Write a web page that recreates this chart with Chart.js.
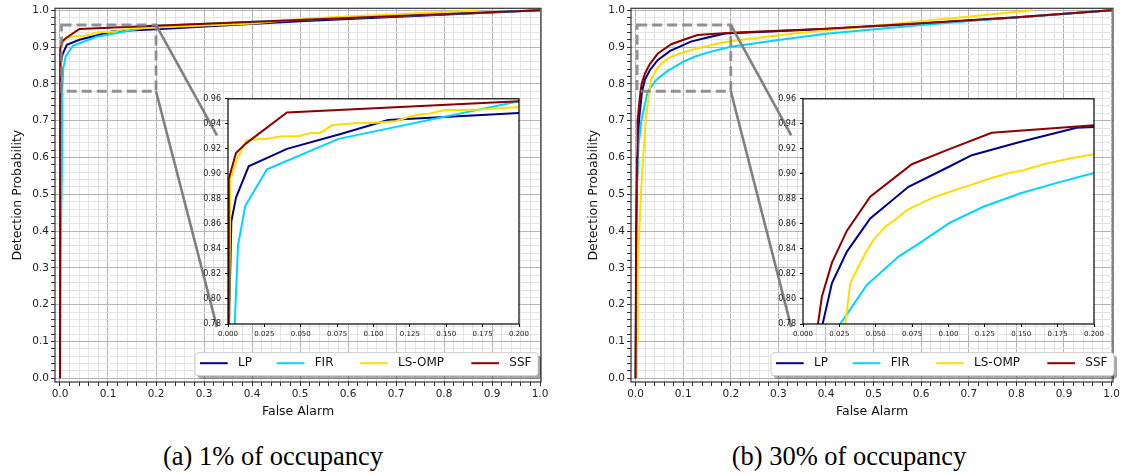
<!DOCTYPE html>
<html><head><meta charset="utf-8">
<script src="https://cdn.jsdelivr.net/npm/chart.js@4.4.1/dist/chart.umd.min.js"></script>
<style>
html,body{margin:0;padding:0;background:#fff;width:1128px;height:475px;overflow:hidden;position:relative}
canvas{position:absolute}
.cap{position:absolute;font-family:"Liberation Serif","Times New Roman",serif;font-size:26.5px;line-height:28px;color:#000;white-space:nowrap;transform:translateX(-50%)}
</style></head><body>
<canvas id="mainA" width="565" height="420" style="left:0px;top:0px"></canvas>
<canvas id="mainB" width="553" height="420" style="left:575px;top:0px"></canvas>
<canvas id="insetA" width="340" height="256" style="left:195px;top:90px"></canvas>
<canvas id="insetB" width="340" height="256" style="left:770px;top:90px"></canvas>
<div class="cap" style="left:273px;top:442px">(a) 1% of occupancy</div>
<div class="cap" style="left:849px;top:442px">(b) 30% of occupancy</div>
<script>
const seriesNames = ['LP', 'FIR', 'LS-OMP', 'SSF'];
const seriesColors = ['#00008b', '#00d4ff', '#ffdd00', '#8b0000'];
const captions = ['(a) 1% of occupancy', '(b) 30% of occupancy'];
const xTitle = 'False Alarm';
const yTitle = 'Detection Probability';

// ---- (a) 1% of occupancy ----
const faLP_a  = [0, 0.0007, 0.0023, 0.0055, 0.0142, 0.0405, 0.078, 0.11, 0.2, 0.5, 1.0];
const pdLP_a  = [0, 0.78, 0.862, 0.881, 0.906, 0.920, 0.932, 0.943, 0.9486, 0.970, 1.0];
const faFIR_a = [0, 0.001, 0.0045, 0.0046, 0.0069, 0.0119, 0.0268, 0.076, 0.2, 1.0];
const pdFIR_a = [0, 0.3, 0.6, 0.78, 0.843, 0.8745, 0.9037, 0.928, 0.958, 1.0];
const faLS_a  = [0, 0.0008, 0.0016, 0.0062, 0.013, 0.027, 0.037, 0.0485, 0.0565, 0.0634, 0.0714, 0.078, 0.0897, 0.099, 0.115, 0.124, 0.131, 0.138, 0.149, 0.161, 0.174, 0.2, 0.4, 0.52, 0.7, 0.87];
const pdLS_a  = [0, 0.78, 0.895, 0.912, 0.927, 0.928, 0.930, 0.930, 0.9327, 0.9327, 0.9388, 0.9396, 0.9406, 0.9406, 0.942, 0.9454, 0.9475, 0.948, 0.951, 0.951, 0.9515, 0.9534, 0.964, 0.978, 0.989, 1.0];
const faSSF_a = [0, 0.0005, 0.0055, 0.012, 0.0405, 0.2, 1.0];
const pdSSF_a = [0, 0.896, 0.9167, 0.924, 0.949, 0.958, 1.0];

// ---- (b) 30% of occupancy ----
const faLP_b  = [0, 0.0015, 0.004, 0.007, 0.0135, 0.0199, 0.0302, 0.0462, 0.0725, 0.101, 0.116, 0.149, 0.188, 0.2, 0.4, 0.6, 0.8, 1.0];
const pdLP_b  = [0, 0.4, 0.6, 0.7, 0.78, 0.8127, 0.8379, 0.8644, 0.8897, 0.9061, 0.9149, 0.9255, 0.9369, 0.9374, 0.949, 0.964, 0.980, 1.0];
const faFIR_b = [0, 0.002, 0.006, 0.012, 0.0256, 0.0439, 0.0657, 0.0783, 0.101, 0.124, 0.149, 0.1744, 0.2, 0.3, 0.4, 0.6, 0.8, 1.0];
const pdFIR_b = [0, 0.5, 0.63, 0.7, 0.78, 0.8113, 0.8339, 0.8432, 0.861, 0.8737, 0.8843, 0.8928, 0.9008, 0.919, 0.936, 0.960, 0.981, 1.0];
const faLS_b  = [0.002, 0.003, 0.0046, 0.011, 0.021, 0.029, 0.0325, 0.0382, 0.0439, 0.0485, 0.0565, 0.0645, 0.0714, 0.0783, 0.0897, 0.101, 0.1149, 0.1286, 0.14, 0.1515, 0.1652, 0.1835, 0.2, 0.3, 0.4, 0.5, 0.6, 0.74, 0.833];
const pdLS_b  = [0, 0.1, 0.3, 0.5, 0.7, 0.78, 0.8127, 0.826, 0.8387, 0.8472, 0.8578, 0.8644, 0.8711, 0.875, 0.8812, 0.8857, 0.891, 0.8963, 0.9003, 0.9029, 0.9077, 0.9122, 0.9157, 0.932, 0.946, 0.957, 0.970, 0.988, 1.0];
const faSSF_b = [0, 0.001, 0.003, 0.004, 0.0103, 0.013, 0.0199, 0.0302, 0.0462, 0.0748, 0.101, 0.1297, 0.2, 0.4, 0.6, 0.8, 1.0];
const pdSSF_b = [0, 0.4, 0.6, 0.7, 0.78, 0.802, 0.829, 0.8546, 0.8817, 0.9077, 0.920, 0.9329, 0.9388, 0.950, 0.965, 0.981, 1.0];

// zoom window (data units) and main / inset axis ticks
const zoomBox = {x0: 0, x1: 0.2, y0: 0.78, y1: 0.96};
const mainStep = 0.02, insetXStep = 0.025, insetYStep = 0.02;

function pts(xs, ys){ return xs.map((x, i) => ({x: x, y: ys[i]})); }
function makeDatasets(fa, pd, width){
  return seriesNames.map((name, i) => ({
    label: name, data: pts(fa[i], pd[i]),
    borderColor: seriesColors[i], backgroundColor: seriesColors[i],
    borderWidth: width, pointRadius: 0, tension: 0, fill: false, order: 3 - i
  }));
}
const isMajor = v => Math.abs(v * 10 - Math.round(v * 10)) < 1e-6;
const FONT = 'DejaVu Sans';

const mainPlugin = {
  id: 'zoomDecor',
  beforeDraw(chart){
    const c = chart.ctx; c.save(); c.fillStyle = '#fff'; c.fillRect(0, 0, chart.width, chart.height); c.restore();
  },
  afterDatasetsDraw(chart, args, opts){
    const {ctx, chartArea: a, scales: {x, y}} = chart;
    ctx.save();
    // connector lines
    ctx.strokeStyle = '#808080'; ctx.lineWidth = 2.6; ctx.setLineDash([]);
    opts.connectors.forEach(([x0, y0, x1, y1]) => {
      ctx.beginPath();
      ctx.moveTo(x.getPixelForValue(x0), y.getPixelForValue(y0));
      ctx.lineTo(x.getPixelForValue(x1), y.getPixelForValue(y1));
      ctx.stroke();
    });
    // dashed zoom rectangle
    const rx0 = x.getPixelForValue(zoomBox.x0) + 1.5, rx1 = x.getPixelForValue(zoomBox.x1);
    const ry0 = y.getPixelForValue(zoomBox.y1), ry1 = y.getPixelForValue(zoomBox.y0);
    ctx.strokeStyle = 'rgba(128,128,128,0.85)'; ctx.lineWidth = 2.8; ctx.setLineDash([10, 5]);
    ctx.strokeRect(rx0, ry0, rx1 - rx0, ry1 - ry0);
    ctx.setLineDash([]);
    // frame
    ctx.strokeStyle = '#333'; ctx.lineWidth = 1.2;
    ctx.strokeRect(a.left, a.top, a.right - a.left, a.bottom - a.top);
    // legend
    const L = opts.legend;
    const bx = a.left + L.dx, by = a.bottom - L.dy - L.h;
    const rr = (px, py, w, h, r) => { ctx.beginPath(); ctx.moveTo(px + r, py); ctx.lineTo(px + w - r, py); ctx.arcTo(px + w, py, px + w, py + r, r); ctx.lineTo(px + w, py + h - r); ctx.arcTo(px + w, py + h, px + w - r, py + h, r); ctx.lineTo(px + r, py + h); ctx.arcTo(px, py + h, px, py + h - r, r); ctx.lineTo(px, py + r); ctx.arcTo(px, py, px + r, py, r); ctx.closePath(); };
    rr(bx + 3, by + 3, L.w, L.h, 3); ctx.fillStyle = 'rgba(0,0,0,0.35)'; ctx.fill();
    rr(bx, by, L.w, L.h, 3); ctx.fillStyle = '#fff'; ctx.fill(); ctx.strokeStyle = '#cccccc'; ctx.lineWidth = 1; ctx.stroke();
    const cy = by + 10.5;
    ctx.font = '12px "' + FONT + '"'; ctx.textBaseline = 'middle'; ctx.textAlign = 'left'; ctx.fillStyle = '#111';
    chart.data.datasets.forEach((ds, i) => {
      const lx = bx + L.items[i];
      ctx.strokeStyle = ds.borderColor; ctx.lineWidth = 2;
      ctx.beginPath(); ctx.moveTo(lx, cy); ctx.lineTo(lx + 27.7, cy); ctx.stroke();
      ctx.fillText(ds.label, lx + 38, cy);
    });
    ctx.restore();
  }
};

const insetPlugin = {
  id: 'insetFrame',
  beforeDraw(chart){
    const {ctx, chartArea: a} = chart;
    ctx.save(); ctx.fillStyle = '#fff'; ctx.fillRect(a.left, a.top, a.right - a.left, a.bottom - a.top); ctx.restore();
  },
  afterDraw(chart){
    const {ctx, chartArea: a} = chart;
    ctx.save(); ctx.strokeStyle = '#000'; ctx.lineWidth = 1.2;
    ctx.strokeRect(a.left, a.top, a.right - a.left, a.bottom - a.top); ctx.restore();
  }
};

function mainConfig(fa, pd, cfg){
  return {
    type: 'line',
    data: {datasets: makeDatasets(fa, pd, 2)},
    options: {
      responsive: false, animation: false, events: [],
      layout: {padding: {top: 4, right: cfg.padRight, bottom: 0, left: 0}},
      plugins: {legend: {display: false}, tooltip: {enabled: false}, zoomDecor: cfg.decor},
      scales: {
        x: {
          type: 'linear', min: cfg.xmin, max: cfg.xmax,
          afterFit: s => { s.height = 38; },
          border: {display: false},
          grid: {color: c => isMajor(c.tick.value) ? '#b4b4b4' : '#e4e4e4', lineWidth: 1, tickLength: 4, tickColor: '#333', drawTicks: true},
          ticks: {stepSize: mainStep, includeBounds: false, autoSkip: false, maxRotation: 0, padding: 2, color: '#222', font: {family: FONT, size: 10.5}, callback: v => isMajor(v) ? v.toFixed(1) : ''},
          title: {display: true, text: xTitle, color: '#111', font: {family: FONT, size: 12.5}, padding: {top: 0, bottom: 1}}
        },
        y: {
          type: 'linear', min: cfg.ymin, max: cfg.ymax,
          afterFit: s => { s.width = cfg.yWidth; },
          border: {display: false},
          grid: {color: c => isMajor(c.tick.value) ? '#b4b4b4' : '#e4e4e4', lineWidth: 1, tickLength: 4, tickColor: '#333', drawTicks: true},
          ticks: {stepSize: mainStep, includeBounds: false, autoSkip: false, padding: 2, color: '#222', font: {family: FONT, size: 10.5}, callback: v => isMajor(v) ? v.toFixed(1) : ''},
          title: {display: true, text: yTitle, color: '#111', font: {family: FONT, size: 12.5}, padding: {top: cfg.yTitlePad, bottom: 0}}
        }
      }
    },
    plugins: [mainPlugin]
  };
}

function insetConfig(fa, pd){
  return {
    type: 'line',
    data: {datasets: makeDatasets(fa, pd, 2)},
    options: {
      responsive: false, animation: false, events: [],
      layout: {padding: {top: 8, right: 16, bottom: 2, left: 0}},
      plugins: {legend: {display: false}, tooltip: {enabled: false}},
      scales: {
        x: {type: 'linear', min: zoomBox.x0, max: zoomBox.x1, afterFit: s => { s.height = 20; },
            border: {display: false}, grid: {drawOnChartArea: false, tickLength: 3, tickColor: '#000'},
            ticks: {stepSize: insetXStep, autoSkip: false, maxRotation: 0, padding: 3, color: '#222', font: {family: FONT, size: 7}, callback: v => v.toFixed(3)}},
        y: {type: 'linear', min: zoomBox.y0, max: zoomBox.y1, afterFit: s => { s.width = 33; },
            border: {display: false}, grid: {drawOnChartArea: false, tickLength: 3, tickColor: '#000'},
            ticks: {stepSize: insetYStep, autoSkip: false, padding: 4, color: '#222', font: {family: FONT, size: 8}, callback: v => v.toFixed(2)}}
      }
    },
    plugins: [insetPlugin]
  };
}

const legendLayout = {dx: 140, dy: 6.3, w: 343, h: 23, items: [5, 81.7, 165, 276.3]};
const connectorsSpec = [[0.2, 0.96, 0.327, 0.66], [0.2, 0.78, 0.327, 0.139]];

const faA = [faLP_a, faFIR_a, faLS_a, faSSF_a], pdA = [pdLP_a, pdFIR_a, pdLS_a, pdSSF_a];
const faB = [faLP_b, faFIR_b, faLS_b, faSSF_b], pdB = [pdLP_b, pdFIR_b, pdLS_b, pdSSF_b];

new Chart(document.getElementById('mainA'), mainConfig(faA, pdA, {
  xmin: -0.0104, xmax: 1.002, ymin: -0.0099, ymax: 1.0053, yWidth: 55, padRight: 24, yTitlePad: 10,
  decor: {connectors: connectorsSpec, legend: legendLayout}
}));
new Chart(document.getElementById('mainB'), mainConfig(faB, pdB, {
  xmin: -0.0097, xmax: 1.003, ymin: -0.0099, ymax: 1.0053, yWidth: 56, padRight: 15, yTitlePad: 11,
  decor: {connectors: connectorsSpec, legend: legendLayout}
}));
new Chart(document.getElementById('insetA'), insetConfig(faA, pdA));
new Chart(document.getElementById('insetB'), insetConfig(faB, pdB));
</script>
</body></html>
